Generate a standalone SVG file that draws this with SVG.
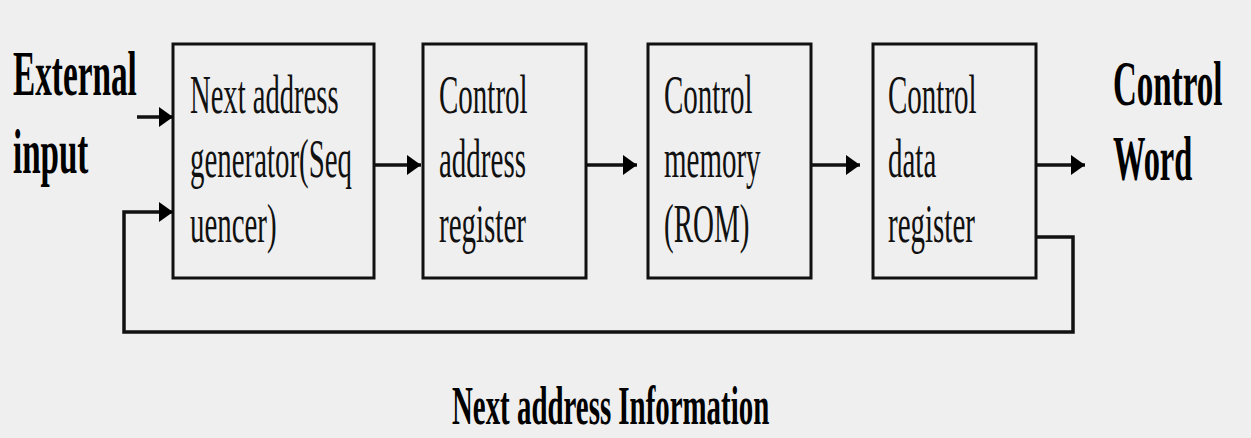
<svg xmlns="http://www.w3.org/2000/svg" width="1251" height="438" viewBox="0 0 1251 438">
  <defs>
    <marker id="head" viewBox="0 0 14 20" refX="14" refY="10" markerWidth="14" markerHeight="20" markerUnits="userSpaceOnUse" orient="auto">
      <path d="M0,0 L14,10 L0,20 Z" fill="#000"/>
    </marker>
    <style>
      .box { fill: none; stroke: #111; stroke-width: 3; }
      .arrow { fill: none; stroke: #111; stroke-width: 3.5; marker-end: url(#head); }
      .lbl { font-family: "Liberation Serif", "Times New Roman", serif; font-size: 54px; fill: #111; }
      .big { font-family: "Liberation Serif", "Times New Roman", serif; font-size: 63px; font-weight: bold; fill: #000; }
      .foot { font-family: "Liberation Serif", "Times New Roman", serif; font-size: 54px; font-weight: bold; fill: #000; }
    </style>
  </defs>

  <rect width="1251" height="438" fill="#efefef"/>

  <!-- side labels, set in a narrow (horizontally condensed) face -->
  <g id="external-input">
    <text class="big" transform="translate(13,95) scale(0.528,1)">External</text>
    <text class="big" transform="translate(13,173) scale(0.525,1)">input</text>
  </g>
  <g id="control-word">
    <text class="big" transform="translate(1113,105) scale(0.524,1)">Control</text>
    <text class="big" transform="translate(1113,180) scale(0.515,1)">Word</text>
  </g>

  <!-- blocks -->
  <g id="sequencer">
    <rect class="box" x="173" y="44" width="201" height="234"/>
    <text class="lbl" transform="translate(190,113) scale(0.53,1)">Next address</text>
    <text class="lbl" transform="translate(190,177) scale(0.535,1)">generator(Seq</text>
    <text class="lbl" transform="translate(190,242) scale(0.535,1)">uencer)</text>
  </g>
  <g id="car">
    <rect class="box" x="423" y="44" width="163" height="234"/>
    <text class="lbl" transform="translate(439,113) scale(0.537,1)">Control</text>
    <text class="lbl" transform="translate(439,177) scale(0.537,1)">address</text>
    <text class="lbl" transform="translate(439,242) scale(0.537,1)">register</text>
  </g>
  <g id="control-memory">
    <rect class="box" x="648" y="44" width="163" height="234"/>
    <text class="lbl" transform="translate(664,113) scale(0.537,1)">Control</text>
    <text class="lbl" transform="translate(664,177) scale(0.537,1)">memory</text>
    <text class="lbl" transform="translate(664,242) scale(0.537,1)">(ROM)</text>
  </g>
  <g id="cdr">
    <rect class="box" x="873" y="44" width="163" height="234"/>
    <text class="lbl" transform="translate(888,113) scale(0.537,1)">Control</text>
    <text class="lbl" transform="translate(888,177) scale(0.537,1)">data</text>
    <text class="lbl" transform="translate(888,242) scale(0.537,1)">register</text>
  </g>

  <!-- connectors -->
  <g id="connectors">
    <line class="arrow" x1="137" y1="117" x2="173" y2="117"/>
    <polyline class="arrow" points="1036,237 1073,237 1073,332 124,332 124,212 173,212"/>
    <line class="arrow" x1="374" y1="165" x2="421" y2="165"/>
    <line class="arrow" x1="586" y1="165" x2="637" y2="165"/>
    <line class="arrow" x1="811" y1="165" x2="860" y2="165"/>
    <line class="arrow" x1="1036" y1="165" x2="1085" y2="165"/>
  </g>

  <g id="feedback-label">
    <text class="foot" transform="translate(452,424) scale(0.535,1)">Next address Information</text>
  </g>
</svg>
